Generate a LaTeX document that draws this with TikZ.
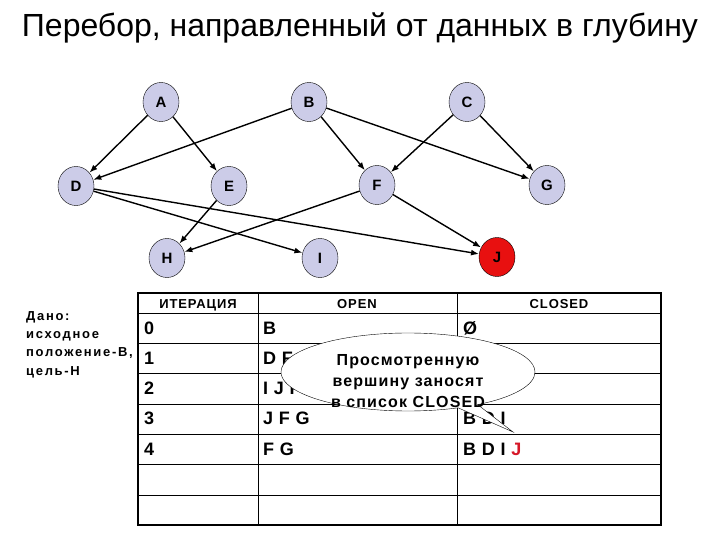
\documentclass[tikz,border=0pt]{standalone}
\usepackage{fontspec}
\setmainfont{Liberation Sans}
\newfontfamily\givenfont[LetterSpace=13]{Liberation Sans}
\newfontfamily\notefont[LetterSpace=7]{Liberation Sans}
\newfontfamily\cellfont[LetterSpace=4]{Liberation Sans}
\usetikzlibrary{arrows.meta,shapes.geometric,shapes.callouts}
\definecolor{vertexfill}{RGB}{204,204,232}
\definecolor{goalred}{RGB}{232,16,16}
\definecolor{listred}{RGB}{214,24,40}
\tikzset{
  vertex/.style={ellipse,draw,fill=vertexfill,minimum width=36pt,minimum height=39pt,
    inner sep=0pt,font=\fontsize{15}{15}\selectfont\bfseries},
  edge/.style={-{Latex[length=8pt,width=6pt]},line width=1.4pt},
  cell/.style={anchor=base west,inner sep=0pt,font=\cellfont\fontsize{18}{18}\selectfont\bfseries},
  headcell/.style={anchor=base,inner sep=0pt,font=\notefont\fontsize{13}{13}\selectfont\bfseries},
}
\begin{document}
\begin{tikzpicture}[x=1pt,y=-1pt]
  \useasboundingbox (0,0) rectangle (720,540);
  \node[anchor=base,inner sep=0pt,font=\fontsize{32}{32}\selectfont] (title) at (360,37)
    {Перебор, направленный от данных в глубину};

  \node[vertex] (a) at (161,102) {A};
  \node[vertex] (b) at (309,102) {B};
  \node[vertex] (c) at (467,102) {C};
  \node[vertex] (d) at (76,186) {D};
  \node[vertex] (e) at (229,186) {E};
  \node[vertex] (f) at (377,185) {F};
  \node[vertex] (g) at (547,185) {G};
  \node[vertex] (h) at (167,258) {H};
  \node[vertex] (i) at (320,258) {I};
  \node[vertex,fill=goalred] (j) at (497,257) {J};

  \foreach \s/\t in {a/d,a/e,b/d,b/f,b/g,c/f,c/g,d/i,d/j,e/h,f/h,f/j}
    \draw[edge] (\s) -- (\t);

  \node[anchor=base west,align=left,inner sep=0pt,
    font=\givenfont\fontsize{13}{18.2}\selectfont\bfseries] (given) at (26,375)
    {Дано:\\исходное\\положение-В,\\цель-Н};

  \draw[line width=2pt] (138,293) rectangle (661,525);
  \foreach \y in {313,343,373,404,434,464,495}
    \draw[line width=0.9pt] (138,\y) -- (661,\y);
  \draw[line width=0.9pt] (258,293) -- (258,525);
  \draw[line width=0.9pt] (457,293) -- (457,525);

  \node[headcell] (hiter) at (198,308) {ИТЕРАЦИЯ};
  \node[headcell] (hopen) at (357,308) {OPEN};
  \node[headcell] (hclosed) at (559,308) {CLOSED};

  \foreach \op/\cl [count=\r from 0] in {B/Ø, D F G/B, I J F G/B D, J F G/B D I,
      F G/B D I \textcolor{listred}{J}} {
    \node[cell] (iter\r) at (144,334+30.3*\r) {\r};
    \node[cell] (open\r) at (263,334+30.3*\r) {\op};
    \node[cell] (closed\r) at (463,334+30.3*\r) {\cl};
  }

  \node[ellipse callout,draw,fill=white,minimum width=254pt,minimum height=78pt,
    inner sep=0pt,callout absolute pointer={(513,432)},callout pointer arc=10] (note) at (408,372) {};
  \node[align=center,inner sep=0pt,font=\notefont\fontsize{16}{21}\selectfont\bfseries] (notetext)
    at (408,381) {Просмотренную\\вершину заносят\\в список CLOSED};
\end{tikzpicture}
\end{document}
